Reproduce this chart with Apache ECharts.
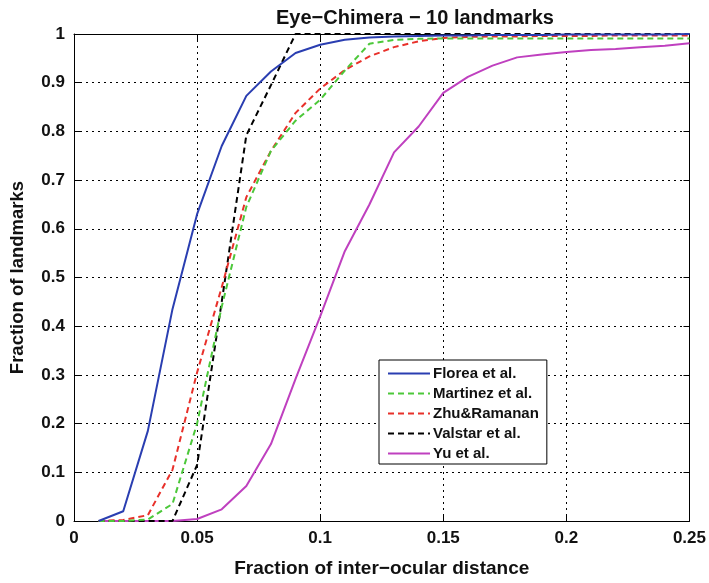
<!DOCTYPE html>
<html>
<head>
<meta charset="utf-8">
<script src="https://cdn.jsdelivr.net/npm/echarts@6/dist/echarts.min.js"></script>
<style>
  html, body { margin: 0; padding: 0; background: #fff; }
  #main { width: 709px; height: 583px; }
</style>
</head>
<body>
<div id="main"></div>
<script>
// x positions (fraction of inter-ocular distance)
const xs = [0.01, 0.02, 0.03, 0.04, 0.05, 0.06, 0.07, 0.08, 0.09, 0.10, 0.11, 0.12, 0.13,
            0.14, 0.15, 0.16, 0.17, 0.18, 0.19, 0.20, 0.21, 0.22, 0.23, 0.24, 0.25];

const florea   = [0, 0.02, 0.185, 0.435, 0.63, 0.77, 0.873, 0.923, 0.961, 0.978, 0.988, 0.993, 0.995,
                  0.996, 0.997, 0.997, 0.998, 0.998, 0.998, 0.999, 0.999, 0.999, 0.999, 0.999, 1];
const martinez = [0, 0, 0.003, 0.035, 0.2, 0.44, 0.645, 0.76, 0.822, 0.865, 0.925, 0.98, 0.988,
                  0.99, 0.991, 0.991, 0.991, 0.991, 0.991, 0.991, 0.991, 0.991, 0.991, 0.991, 0.991];
const zhu      = [0, 0.002, 0.012, 0.105, 0.305, 0.48, 0.665, 0.76, 0.838, 0.888, 0.926, 0.954, 0.973,
                  0.985, 0.992, 0.994, 0.995, 0.995, 0.996, 0.996, 0.996, 0.997, 0.997, 0.997, 0.997];
const valstar  = [0, 0, 0, 0, 0.115, 0.45, 0.792, 0.895, 1, 1, 1, 1, 1,
                  1, 1, 1, 1, 1, 1, 1, 1, 1, 1, 1, 1];
const yu       = [0, 0, 0, 0, 0.004, 0.024, 0.072, 0.158, 0.292, 0.42, 0.554, 0.65, 0.757,
                  0.81, 0.879, 0.912, 0.935, 0.952, 0.958, 0.963, 0.967, 0.969, 0.973, 0.976, 0.981];

const names  = ['Florea et al.', 'Martinez et al.', 'Zhu&Ramanan', 'Valstar et al.', 'Yu et al.'];
const colors = ['#2a3eb1', '#4cc83a', '#e8302a', '#000000', '#bf40bf'];
const dashed = [false, true, true, true, false];
const values = [florea, martinez, zhu, valstar, yu];

const font = 'Liberation Sans, Arial, Helvetica, sans-serif';

let myChart = echarts.init(document.getElementById('main'));

const series = values.map((v, i) => ({
  name: names[i],
  type: 'line',
  symbol: 'none',
  data: xs.map((x, j) => [x, v[j]]),
  lineStyle: {
    color: colors[i],
    width: 2,
    type: dashed[i] ? [6, 4] : 'solid'
  },
  itemStyle: { color: colors[i] },
  z: 10 - i
}));

const gridLine = { show: true, lineStyle: { color: '#000', type: [2, 4], width: 1 } };

let option = {
  animation: false,
  backgroundColor: '#fff',
  title: {
    text: 'Eye\u2212Chimera \u2212 10 landmarks',
    left: 410,
    top: 3,
    textAlign: 'center',
    textStyle: { fontFamily: font, fontWeight: 'bold', fontSize: 20, color: '#111' }
  },
  grid: { left: 74, right: 17, top: 34, bottom: 61 },
  legend: {
    orient: 'vertical',
    left: 379,
    top: 360,
    width: 168,
    padding: [6, 8, 3, 8],
    itemGap: 5,
    itemWidth: 42,
    itemHeight: 16,
    borderColor: '#000',
    borderWidth: 1,
    borderRadius: 0,
    backgroundColor: '#fff',
    itemStyle: { color: 'transparent', borderWidth: 0, opacity: 0 },
    data: names,
    textStyle: { fontFamily: font, fontWeight: 'bold', fontSize: 15, color: '#111', padding: [0, 0, 0, -2] }
  },
  xAxis: [{
    type: 'value',
    min: 0, max: 0.25, interval: 0.05,
    name: 'Fraction of inter\u2212ocular distance',
    nameLocation: 'middle',
    nameGap: 38,
    nameTextStyle: { fontFamily: font, fontWeight: 'bold', fontSize: 19, color: '#111' },
    axisLine: { show: true, onZero: false, lineStyle: { color: '#000', width: 1 } },
    axisTick: { show: true, inside: true, length: 6, lineStyle: { color: '#000' } },
    axisLabel: { fontFamily: font, fontWeight: 'bold', fontSize: 17, color: '#111', margin: 9 },
    splitLine: gridLine
  }, {
    type: 'value',
    position: 'top',
    min: 0, max: 0.25, interval: 0.05,
    axisLine: { show: true, onZero: false, lineStyle: { color: '#000', width: 1 } },
    axisTick: { show: true, inside: true, length: 6, lineStyle: { color: '#000' } },
    axisLabel: { show: false },
    splitLine: { show: false }
  }],
  yAxis: [{
    type: 'value',
    min: 0, max: 1, interval: 0.1,
    name: 'Fraction of landmarks',
    nameLocation: 'middle',
    nameGap: 47,
    nameTextStyle: { fontFamily: font, fontWeight: 'bold', fontSize: 18.5, color: '#111' },
    axisLine: { show: true, onZero: false, lineStyle: { color: '#000', width: 1 } },
    axisTick: { show: true, inside: true, length: 6, lineStyle: { color: '#000' } },
    axisLabel: { fontFamily: font, fontWeight: 'bold', fontSize: 17, color: '#111', margin: 9 },
    splitLine: gridLine
  }, {
    type: 'value',
    position: 'right',
    min: 0, max: 1, interval: 0.1,
    axisLine: { show: true, onZero: false, lineStyle: { color: '#000', width: 1 } },
    axisTick: { show: true, inside: true, length: 6, lineStyle: { color: '#000' } },
    axisLabel: { show: false },
    splitLine: { show: false }
  }],
  series: series
};

myChart.setOption(option);
</script>
</body>
</html>
